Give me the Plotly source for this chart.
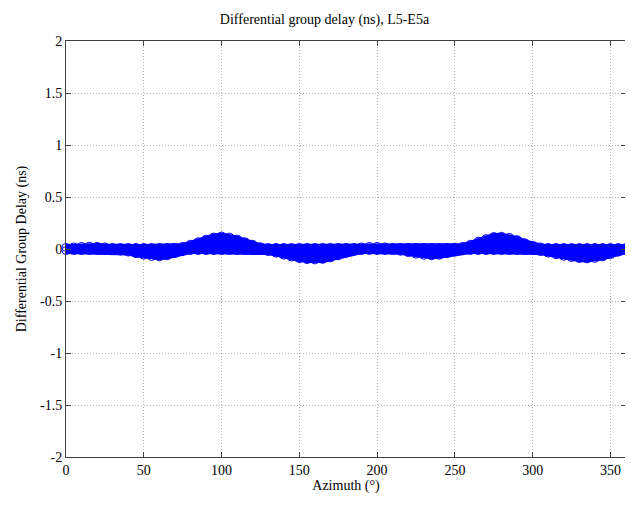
import plotly.graph_objects as go

azimuth = list(range(0, 365, 5))

# Upper envelope of the plotted DGD points (ns)
dgd_upper = [0.015, 0.02, 0.025, 0.027, 0.025, 0.02, 0.015, 0.015, 0.015, 0.015,
             0.015, 0.015, 0.015, 0.015, 0.015, 0.025, 0.045, 0.07, 0.095, 0.115,
             0.125, 0.115, 0.095, 0.07, 0.045, 0.022, 0.015, 0.015, 0.015, 0.015,
             0.015, 0.015, 0.015, 0.015, 0.015, 0.015, 0.015, 0.015, 0.02, 0.025,
             0.025, 0.02, 0.015, 0.015, 0.015, 0.015, 0.015, 0.015, 0.015, 0.015,
             0.015, 0.025, 0.045, 0.075, 0.1, 0.12, 0.122, 0.112, 0.09, 0.06,
             0.035, 0.02, 0.015, 0.015, 0.015, 0.015, 0.015, 0.015, 0.015, 0.015,
             0.015, 0.015, 0.015]

# Lower envelope of the plotted DGD points (ns)
dgd_lower = [-0.015, -0.015, -0.015, -0.015, -0.015, -0.015, -0.015, -0.02, -0.03, -0.045,
             -0.06, -0.072, -0.075, -0.065, -0.045, -0.025, -0.015, -0.015, -0.015, -0.015,
             -0.015, -0.015, -0.015, -0.015, -0.015, -0.015, -0.025, -0.04, -0.06, -0.078,
             -0.092, -0.102, -0.105, -0.1, -0.085, -0.065, -0.04, -0.02, -0.015, -0.015,
             -0.015, -0.015, -0.015, -0.022, -0.035, -0.05, -0.06, -0.065, -0.06, -0.045,
             -0.028, -0.015, -0.015, -0.015, -0.015, -0.015, -0.015, -0.015, -0.015, -0.015,
             -0.015, -0.025, -0.04, -0.055, -0.07, -0.082, -0.092, -0.095, -0.09, -0.075,
             -0.055, -0.03, -0.015]

x_ticks = [0, 50, 100, 150, 200, 250, 300, 350]
y_ticks = [-2, -1.5, -1, -0.5, 0, 0.5, 1, 1.5, 2]
y_tick_labels = ["-2", "-1.5", "-1", "-0.5", "0", "0.5", "1", "1.5", "2"]

BLUE = "#0000FF"
FONT = "Liberation Serif"

fig = go.Figure()
fig.add_trace(go.Scatter(
    x=azimuth, y=dgd_upper, mode="lines+markers",
    line=dict(color=BLUE, width=7),
    marker=dict(symbol="circle-open", size=8, color=BLUE, line=dict(width=1)),
    cliponaxis=False, showlegend=False, hoverinfo="skip"))
fig.add_trace(go.Scatter(
    x=azimuth, y=dgd_lower, mode="lines+markers",
    line=dict(color=BLUE, width=7),
    marker=dict(symbol="circle-open", size=8, color=BLUE, line=dict(width=1)),
    fill="tonexty", fillcolor=BLUE,
    cliponaxis=False, showlegend=False, hoverinfo="skip"))

axis_common = dict(
    showline=True, linecolor="#404040", linewidth=1, mirror="ticks",
    ticks="inside", ticklen=5, tickcolor="#404040",
    showgrid=True, gridcolor="#b4b4b4", griddash="1px,2px", gridwidth=1,
    zeroline=False, automargin=False,
    tickfont=dict(family=FONT, size=14, color="black"),
)

fig.update_layout(
    width=633, height=527,
    paper_bgcolor="white", plot_bgcolor="white",
    margin=dict(l=58, r=15, t=33, b=78),
    title=dict(text="Differential group delay (ns), L5-E5a", x=0.5, xanchor="center",
               yref="container", y=0.978, yanchor="middle",
               font=dict(family=FONT, size=14, color="black")),
    xaxis=dict(range=[0, 360], tickvals=x_ticks,
               title=dict(text="Azimuth (°)", font=dict(family=FONT, size=14, color="black"), standoff=2),
               **axis_common),
    yaxis=dict(range=[-2, 2], tickvals=y_ticks, ticktext=y_tick_labels,
               title=dict(text="Differential Group Delay (ns)", font=dict(family=FONT, size=14, color="black"), standoff=10),
               **axis_common),
)

fig.write_html("out.html")
